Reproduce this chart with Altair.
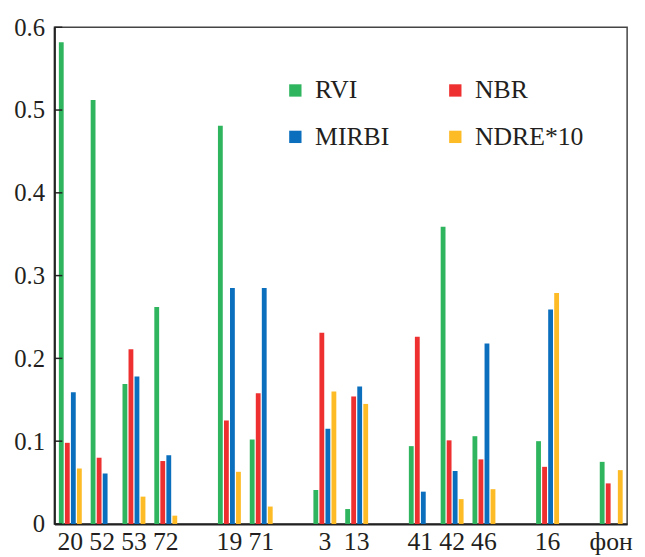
import altair as alt
import pandas as pd

slots = ["20", "52", "53", "72", "g1", "19", "71", "g2", "3", "13", "g3",
         "41", "42", "46", "g4", "16", "g5", "фон"]
series = ["RVI", "NBR", "MIRBI", "NDRE*10"]
colors = ["#2fb55e", "#ef3030", "#0b6fbd", "#fdbb26"]
sites = ["20", "52", "53", "72", "19", "71", "3", "13", "41", "42", "46", "16", "фон"]
rvi = [0.582, 0.512, 0.169, 0.262, 0.481, 0.102, 0.041, 0.018, 0.094, 0.359, 0.106, 0.100, 0.075]
nbr = [0.098, 0.080, 0.211, 0.076, 0.125, 0.158, 0.231, 0.154, 0.226, 0.101, 0.078, 0.069, 0.049]
mirbi = [0.159, 0.061, 0.178, 0.083, 0.285, 0.285, 0.115, 0.166, 0.039, 0.064, 0.218, 0.259, None]
ndre = [0.067, None, 0.033, 0.010, 0.063, 0.021, 0.160, 0.145, None, 0.030, 0.042, 0.279, 0.065]
y_ticks = [0, 0.1, 0.2, 0.3, 0.4, 0.5, 0.6]

rows = []
for name, vals in zip(series, [rvi, nbr, mirbi, ndre]):
    for s, v in zip(sites, vals):
        if v is not None:
            rows.append({"site": s, "series": name, "value": v})
df = pd.DataFrame(rows)
ticks_df = pd.DataFrame({"v": y_ticks})

FONT = "'Liberation Serif', serif"
TXT = "#231f20"

yscale = alt.Scale(domain=[0, 0.6], nice=False)

bars = alt.Chart(df).mark_bar().encode(
    x=alt.X("site:N", sort=slots,
            scale=alt.Scale(domain=slots, paddingInner=0.28, paddingOuter=0.14),
            axis=alt.Axis(title=None, ticks=False, labelAngle=0,
                          labelExpr="indexof(datum.label, 'g') == 0 ? '' : datum.label",
                          labelFont=FONT, labelFontSize=26, labelColor=TXT,
                          labelPadding=5, domainColor="#222", domainWidth=2)),
    xOffset=alt.XOffset("series:N", sort=series,
                        scale=alt.Scale(domain=series, paddingInner=0.2, paddingOuter=0)),
    y=alt.Y("value:Q", scale=yscale,
            axis=alt.Axis(title=None, values=y_ticks, format=".1~f", grid=False,
                          ticks=False, labelFont=FONT, labelFontSize=25,
                          labelColor=TXT, labelPadding=10,
                          domainColor="#222", domainWidth=2)),
    color=alt.Color("series:N", sort=series,
                    scale=alt.Scale(domain=series, range=colors),
                    legend=alt.Legend(title=None, orient="none", legendX=231, legendY=51,
                                      direction="horizontal",
                                      columns=2, columnPadding=53, rowPadding=21,
                                      symbolType="square", symbolSize=156,
                                      symbolStrokeWidth=0, labelFont=FONT,
                                      labelFontSize=26, labelColor=TXT,
                                      labelOffset=7, padding=0)),
)

tick_marks = alt.Chart(ticks_df).mark_rule(color="#222", strokeWidth=1.5).encode(
    y=alt.Y("v:Q", scale=yscale),
    x=alt.value(0),
    x2=alt.value(8),
)

chart = alt.layer(bars, tick_marks).properties(
    width=580, height=503,
    autosize=alt.AutoSizeParams(type="none"),
    padding={"left": 47, "top": 16, "right": 10, "bottom": 33},
).configure_view(stroke="#444", strokeWidth=1.5)

chart.save("out.html", embed_options={"renderer": "svg", "actions": False})
